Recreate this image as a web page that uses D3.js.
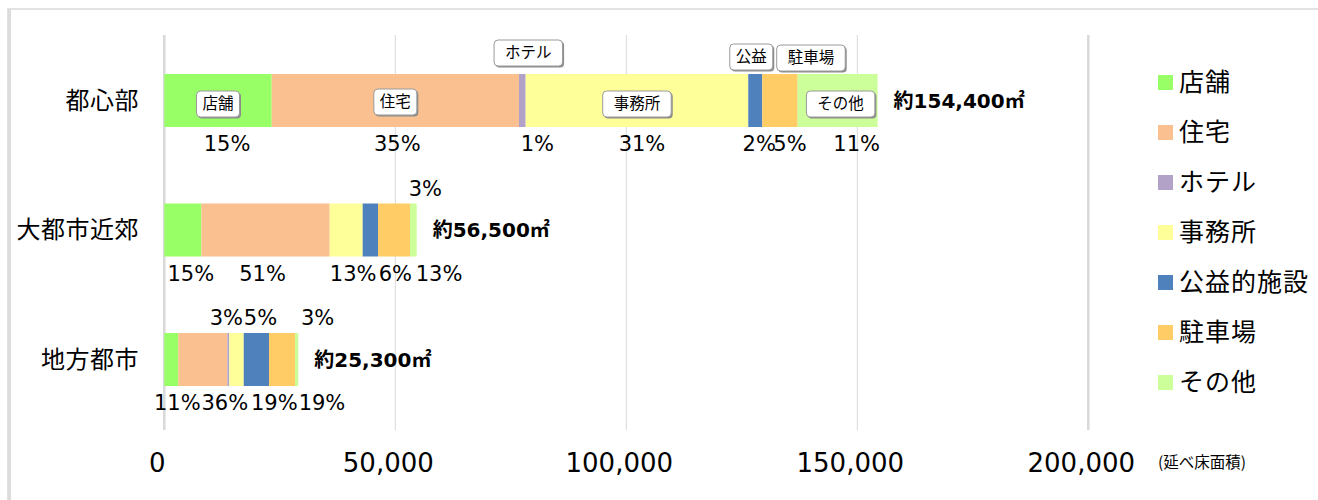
<!DOCTYPE html>
<html>
<head>
<meta charset="utf-8">
<script src="https://cdn.jsdelivr.net/npm/d3@7"></script>
<style>
  html, body { margin: 0; padding: 0; background: #fff; }
  svg { display: block; }
</style>
</head>
<body>
<svg id="chart" width="1318" height="500"></svg>
<script>
// Floor area by use, three city types (m²)
const categories = ['都心部', '大都市近郊', '地方都市'];
const uses = ['店舗', '住宅', 'ホテル', '事務所', '公益的施設', '駐車場', 'その他'];
const shop = [23250, 8010, 3030];
const housing = [53520, 27790, 10610];
const hotel = [1450, 0, 430];
const office = [48180, 7140, 3120];
const publicFac = [3030, 3320, 5470];
const parking = [7660, 6920, 5630];
const other = [17300, 1450, 710];
const totalLabels = ['約154,400㎡', '約56,500㎡', '約25,300㎡'];
const pctLabels = [
  ['15%', '35%', '1%', '31%', '2%', '5%', '11%'],
  ['15%', '51%', '', '13%', '6%', '13%', '3%'],
  ['11%', '36%', '3%', '5%', '19%', '19%', '3%']
];
const calloutNames = ['店舗', '住宅', 'ホテル', '事務所', '公益', '駐車場', 'その他'];
const xTicks = [0, 50000, 100000, 150000, 200000];
const unitLabel = '(延べ床面積)';

const COLORS = ['#99ff66', '#fac090', '#b3a2c7', '#ffff99', '#4f81bd', '#ffcc66', '#ccff99'];

// label placement tweaks (px) – the original had hand-moved labels
const pctPlace = [
  [[9, 'b'], [2, 'b'], [15, 'b'], [5, 'b'], [4, 'b'], [10, 'b'], [19, 'b']],
  [[8, 'b'], [-3, 'b'], [0, 'b'], [7, 'b'], [25, 'b'], [45, 'b'], [12, 'a']],
  [[6, 'b'], [22, 'b'], [-2, 'a'], [24, 'a'], [18, 'b'], [40, 'b'], [21, 'a']]
];
const calloutPlace = [[0, 3.5], [0, 1.5], [6, -47.5], [0, 3.5], [-4, -43.5], [31, -42.5], [3, 3.5]];

const svg = d3.select('#chart');
const FONT = '"DejaVu Sans", "Noto Sans CJK JP", sans-serif';
const JFONT = '"Noto Sans CJK JP", sans-serif';

// outer frame (only left and top edges are visible in the crop)
svg.append('rect').attr('x', 8).attr('y', 9).attr('width', 1320).attr('height', 500)
  .attr('fill', 'none').attr('stroke', '#d9d9d9').attr('stroke-width', 1.5);
svg.append('line').attr('x1', 9.5).attr('x2', 9.5).attr('y1', 9).attr('y2', 500)
  .attr('stroke', '#dcdcdc').attr('stroke-width', 3);

const rows = categories.map((c, i) => ({
  cat: c,
  '店舗': shop[i], '住宅': housing[i], 'ホテル': hotel[i], '事務所': office[i],
  '公益的施設': publicFac[i], '駐車場': parking[i], 'その他': other[i]
}));
const stacked = d3.stack().keys(uses)(rows);

const x = d3.scaleLinear().domain([0, 200000]).range([164.3, 1088.3]);
const y = d3.scalePoint().domain(categories).range([35.75, 424.25]).padding(0.5);
const barH = 53;
const plotTop = 35, plotBottom = 430;

// gridlines
svg.append('g').selectAll('line').data(xTicks).join('line')
  .attr('x1', d => x(d)).attr('x2', d => x(d))
  .attr('y1', plotTop).attr('y2', plotBottom)
  .attr('stroke', '#d9d9d9')
  .attr('stroke-width', d => (d === 0 || d === 200000) ? 2.5 : 1);

// bars
svg.append('g').selectAll('g').data(stacked).join('g')
  .attr('fill', (d, i) => COLORS[i])
  .selectAll('rect').data(d => d).join('rect')
  .attr('x', d => x(d[0]))
  .attr('y', d => y(d.data.cat) - barH / 2)
  .attr('width', d => Math.max(0, x(d[1]) - x(d[0])))
  .attr('height', barH);

// category labels
svg.append('g').selectAll('text').data(categories).join('text')
  .attr('x', 139).attr('y', d => y(d)).attr('dy', '0.35em')
  .attr('text-anchor', 'end').attr('font-family', JFONT).attr('font-size', 24)
  .attr('letter-spacing', 0.5)
  .attr('fill', '#000').text(d => d);

// percentage labels
const pctG = svg.append('g');
stacked.forEach((layer, k) => {
  layer.forEach((seg, i) => {
    const txt = pctLabels[i][k];
    if (!txt) return;
    const [dx, side] = pctPlace[i][k];
    const cy = y(categories[i]);
    pctG.append('text')
      .attr('x', (x(seg[0]) + x(seg[1])) / 2 + dx)
      .attr('y', side === 'b' ? cy + barH / 2 + 17 : cy - barH / 2 - 15)
      .attr('dy', '0.35em').attr('text-anchor', 'middle')
      .attr('font-family', FONT).attr('font-size', 21).attr('fill', '#000')
      .text(txt);
  });
});

// callout boxes on the first bar
const callG = svg.append('g');
stacked.forEach((layer, k) => {
  const seg = layer[0];
  const [dx, dy] = calloutPlace[k];
  const cx = (x(seg[0]) + x(seg[1])) / 2 + dx;
  const cy = y(categories[0]) + dy;
  const g = callG.append('g');
  const t = g.append('text').attr('x', cx).attr('y', cy).attr('dy', '0.35em')
    .attr('text-anchor', 'middle').attr('font-family', JFONT).attr('font-size', 15.5)
    .attr('fill', '#000').text(calloutNames[k]);
  const w = t.node().getComputedTextLength() + (calloutNames[k].length > 2 ? 22 : 12);
  const h = 26;
  g.insert('rect', 'text').attr('x', cx - w / 2 + 1.5).attr('y', cy - h / 2 + 1.5)
    .attr('width', w).attr('height', h).attr('rx', 4).attr('fill', '#8c8c8c');
  g.insert('rect', 'text').attr('x', cx - w / 2).attr('y', cy - h / 2)
    .attr('width', w).attr('height', h).attr('rx', 4)
    .attr('fill', '#fff').attr('stroke', '#9a9a9a').attr('stroke-width', 1);
});

// totals
const ends = stacked[stacked.length - 1];
svg.append('g').selectAll('text').data(ends).join('text')
  .attr('x', d => x(d[1]) + 16).attr('y', d => y(d.data.cat)).attr('dy', '0.35em')
  .attr('font-family', FONT).attr('font-weight', 'bold').attr('font-size', 20)
  .attr('fill', '#000').text((d, i) => totalLabels[i]);

// x axis tick labels
svg.append('g').selectAll('text').data(xTicks).join('text')
  .attr('x', d => x(d) - 7).attr('y', 463).attr('dy', '0.35em')
  .attr('text-anchor', 'middle').attr('font-family', FONT).attr('font-size', 26)
  .attr('fill', '#000').text(d => d3.format(',')(d));
svg.append('text').attr('x', 1158).attr('y', 463).attr('dy', '0.35em')
  .attr('font-family', JFONT).attr('font-size', 15.5).attr('fill', '#000').text(unitLabel);

// legend
const leg = svg.append('g').selectAll('g').data(uses).join('g')
  .attr('transform', (d, i) => `translate(1158,${82.5 + i * 50})`);
leg.append('rect').attr('x', 0).attr('y', -7.5).attr('width', 15).attr('height', 15)
  .attr('fill', (d, i) => COLORS[i]);
leg.append('text').attr('x', 21).attr('y', 0).attr('dy', '0.35em')
  .attr('font-family', JFONT).attr('font-size', 25).attr('letter-spacing', 1)
  .attr('fill', '#000').text(d => d);
</script>
</body>
</html>
